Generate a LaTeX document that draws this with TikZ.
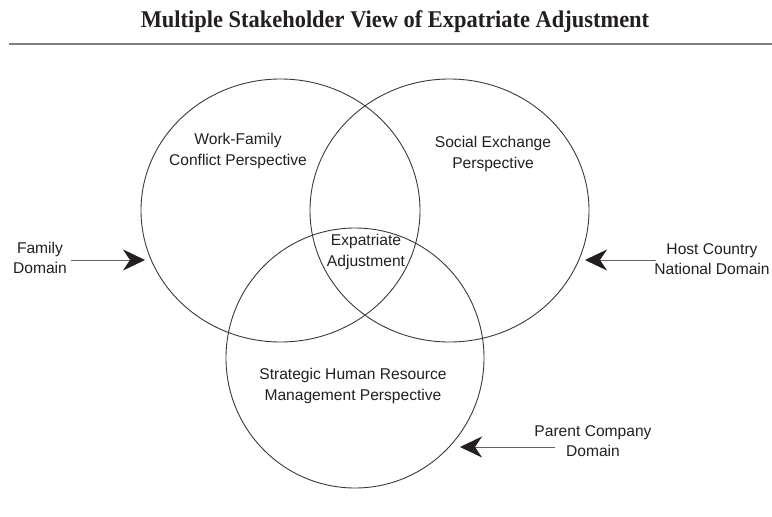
\documentclass[tikz,border=0pt]{standalone}
\usepackage{fontspec}
\setmainfont{Liberation Sans}
\newfontfamily\titlefont{Liberation Serif}
\usetikzlibrary{arrows.meta,shapes.geometric}
\definecolor{ink}{HTML}{231F20}
\definecolor{ring}{HTML}{3A3A3A}
\definecolor{rule}{HTML}{808080}
\tikzset{
  venn/.style={draw=ring, line width=0.9pt, ellipse, inner sep=0pt},
  lbl/.style={text=ink, align=center, font=\fontsize{15.6}{20.5}\selectfont, inner sep=0pt},
  pointer/.style={draw=ink!70, line width=0.9pt, -{Stealth[length=22pt, width=21pt, inset=7pt, color=ink]}},
}
\begin{document}
\begin{tikzpicture}[x=1pt,y=-1pt]
\useasboundingbox (0,0) rectangle (772,517);
% title
\node[text=ink, font=\titlefont\bfseries\fontsize{24}{28}\selectfont, inner sep=0pt] (title) at (395,22) {\scalebox{0.935}[1]{Multiple Stakeholder View of Expatriate Adjustment}};
\draw[rule, line width=1.3pt] (9,44) -- (772,44);
% circles
\node[venn, minimum width=279pt, minimum height=263pt] (c1) at (280.5,210.5) {};
\node[venn, minimum width=279pt, minimum height=263pt] (c2) at (449.5,210.5) {};
\node[venn, minimum width=258pt, minimum height=260pt] (c3) at (355,358) {};
% circle labels
\node[lbl] (wf) at (238,151) {Work-Family\\Conflict Perspective};
\node[lbl] (se) at (493,154) {Social Exchange\\Perspective};
\node[lbl] (ea) at (366,252) {Expatriate\\Adjustment};
\node[lbl] (shrm) at (353,386) {Strategic Human Resource\\Management Perspective};
% domain labels
\node[lbl] (fd) at (40,258) {Family\\Domain};
\node[lbl] (hd) at (712,259) {Host Country\\National Domain};
\node[lbl] (pd) at (593,441) {Parent Company\\Domain};
% arrow ends
\coordinate (fstart) at (71,260);
\coordinate (ftip) at (145,260);
\coordinate (hstart) at (656,260);
\coordinate (htip) at (585,260);
\coordinate (pstart) at (555,447);
\coordinate (ptip) at (460,447);
\draw[pointer] (fstart) -- (ftip);
\draw[pointer] (hstart) -- (htip);
\draw[pointer] (pstart) -- (ptip);
\end{tikzpicture}
\end{document}
